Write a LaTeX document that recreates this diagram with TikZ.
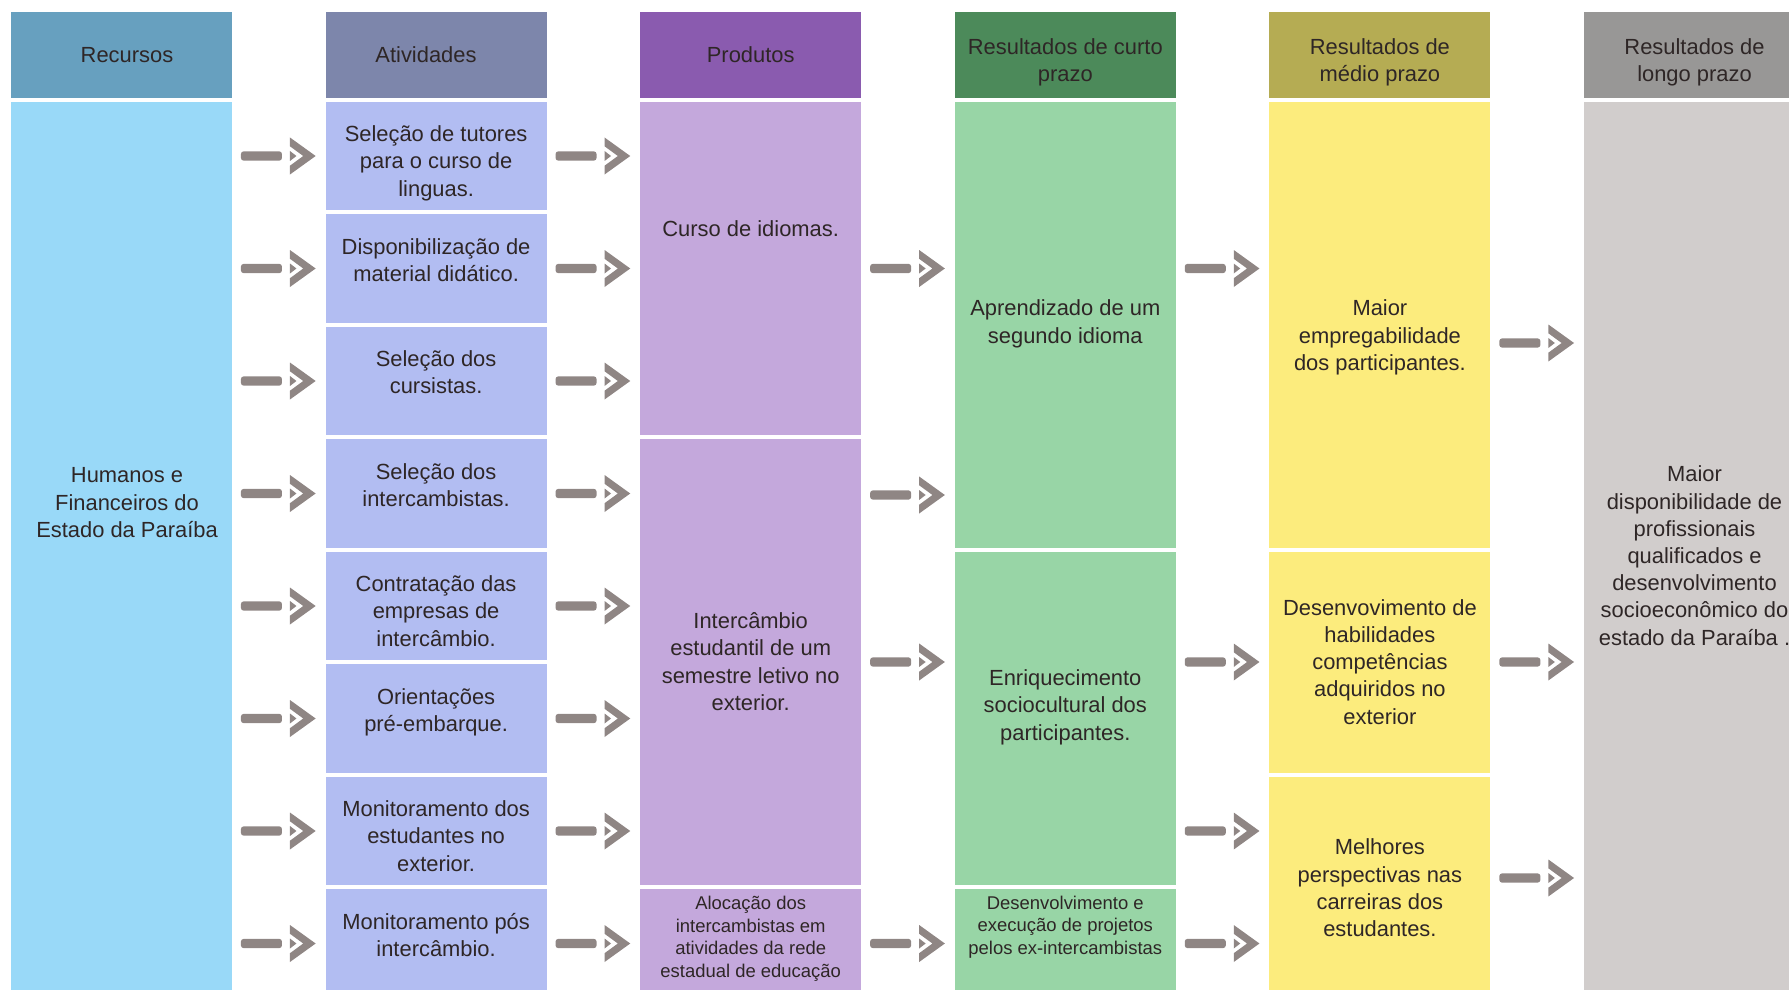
\documentclass[tikz,border=0pt]{standalone}
\usepackage{fontspec}
\setmainfont{Liberation Sans}
\definecolor{colRecHd}{HTML}{67A0BF}
\definecolor{colRec}{HTML}{99D9F8}
\definecolor{colAtvHd}{HTML}{7D86AB}
\definecolor{colAtv}{HTML}{B2BDF2}
\definecolor{colPrdHd}{HTML}{8A5BAF}
\definecolor{colPrd}{HTML}{C4A8DC}
\definecolor{colCurHd}{HTML}{4C8A5A}
\definecolor{colCur}{HTML}{98D5A6}
\definecolor{colMedHd}{HTML}{B5AC53}
\definecolor{colMed}{HTML}{FCEC7D}
\definecolor{colLonHd}{HTML}{989796}
\definecolor{colLon}{HTML}{D1CDCC}
\definecolor{colArrow}{HTML}{8F8684}
\definecolor{colText}{HTML}{2E2626}
\def\bodyfont{\fontsize{12.47pt}{15.48pt}\selectfont}
\def\smallfont{\fontsize{10.5pt}{12.76pt}\selectfont}
\tikzset{
  cellbox/.style={anchor=north west, inner sep=0pt, outer sep=0pt, minimum width=4.42cm},
  celltext/.style={anchor=north, align=center, inner sep=0pt, text=colText, font=\bodyfont}}
\newcommand{\cell}[5]{%
  \node[cellbox, fill=#5, minimum height={(#4-#3)*0.02cm}] (#1) at (#2,#3) {};}
\newcommand{\ctext}[4]{%
  \node[celltext] (#1) at (#2,#3) {\strut #4};}
\newcommand{\flowarrow}[2]{%
  \begin{scope}[shift={(#1.east |- 0,#2)}]
    \fill[colArrow, rounded corners=1.5pt] (9,-4.6) rectangle (50,4.6);
    \fill[colArrow] (58,-18.5) -- (83.7,0) -- (58,18.5) -- (58,9.7) -- (71.3,0) -- (58,-9.7) -- cycle;
    \fill[colArrow] (58,-5) -- (64.5,0) -- (58,5) -- cycle;
  \end{scope}}

\begin{document}
\begin{tikzpicture}[x=0.02cm, y=-0.02cm]
\useasboundingbox (0,0) rectangle (1789,990);
\clip (0,0) rectangle (1789,990);

% ===================== HEADERS =====================
\cell{hdRec}{11}{11.7}{97.7}{colRecHd}
\cell{hdAtv}{325.6}{11.7}{97.7}{colAtvHd}
\cell{hdPrd}{640.2}{11.7}{97.7}{colPrdHd}
\cell{hdCur}{954.8}{11.7}{97.7}{colCurHd}
\cell{hdMed}{1269.4}{11.7}{97.7}{colMedHd}
\cell{hdLon}{1584}{11.7}{97.7}{colLonHd}
\ctext{hdRecTxt}{127}{43.6}{Recursos}
\ctext{hdAtvTxt}{426}{43.6}{Atividades}
\ctext{hdPrdTxt}{750.7}{43.6}{Produtos}
\ctext{hdCurTxt}{1065.3}{35}{Resultados de curto\\prazo}
\ctext{hdMedTxt}{1379.9}{35}{Resultados de\\médio prazo}
\ctext{hdLonTxt}{1694.5}{35}{Resultados de\\longo prazo}

% ===================== RECURSOS =====================
\cell{rec}{11}{101.7}{997.7}{colRec}
\ctext{recTxt}{127}{463.6}{Humanos e\\Financeiros do\\Estado da Paraíba}

% ===================== ATIVIDADES =====================
\cell{atv1}{325.6}{101.7}{210.2}{colAtv}
\cell{atv2}{325.6}{214.2}{322.7}{colAtv}
\cell{atv3}{325.6}{326.7}{435.2}{colAtv}
\cell{atv4}{325.6}{439.2}{547.7}{colAtv}
\cell{atv5}{325.6}{551.7}{660.2}{colAtv}
\cell{atv6}{325.6}{664.2}{772.7}{colAtv}
\cell{atv7}{325.6}{776.7}{885.2}{colAtv}
\cell{atv8}{325.6}{889.2}{997.7}{colAtv}
\ctext{atv1Txt}{436.1}{122.3}{Seleção de tutores\\para o curso de\\linguas.}
\ctext{atv2Txt}{436.1}{234.8}{Disponibilização de\\material didático.}
\ctext{atv3Txt}{436.1}{347.3}{Seleção dos\\cursistas.}
\ctext{atv4Txt}{436.1}{459.8}{Seleção dos\\intercambistas.}
\ctext{atv5Txt}{436.1}{572.3}{Contratação das\\empresas de\\intercâmbio.}
\ctext{atv6Txt}{436.1}{684.8}{Orientações\\pré-embarque.}
\ctext{atv7Txt}{436.1}{797.3}{Monitoramento dos\\estudantes no\\exterior.}
\ctext{atv8Txt}{436.1}{909.8}{Monitoramento pós\\intercâmbio.}

% ===================== PRODUTOS =====================
\cell{prd1}{640.2}{101.7}{435.2}{colPrd}
\cell{prd2}{640.2}{439.2}{885.2}{colPrd}
\cell{prd3}{640.2}{889.2}{997.7}{colPrd}
\ctext{prd1Txt}{750.7}{216.9}{Curso de idiomas.}
\ctext{prd2Txt}{750.7}{609.3}{Intercâmbio\\estudantil de um\\semestre letivo no\\exterior.}
\node[celltext, font=\smallfont] (prd3Txt) at (750.7,893.7)
  {\strut Alocação dos\\intercambistas em\\atividades da rede\\estadual de educação};

% ===================== CURTO PRAZO =====================
\cell{cur1}{954.8}{101.7}{547.7}{colCur}
\cell{cur2}{954.8}{551.7}{885.2}{colCur}
\cell{cur3}{954.8}{889.2}{997.7}{colCur}
\ctext{cur1Txt}{1065.3}{296.6}{Aprendizado de um\\segundo idioma}
\ctext{cur2Txt}{1065.3}{666.4}{Enriquecimento\\sociocultural dos\\participantes.}
\node[celltext, font=\smallfont] (cur3Txt) at (1065.3,893.4)
  {\strut Desenvolvimento e\\execução de projetos\\pelos ex-intercambistas};

% ===================== MEDIO PRAZO =====================
\cell{med1}{1269.4}{101.7}{547.7}{colMed}
\cell{med2}{1269.4}{551.7}{772.7}{colMed}
\cell{med3}{1269.4}{776.7}{997.7}{colMed}
\ctext{med1Txt}{1379.9}{296.6}{Maior\\empregabilidade\\dos participantes.}
\ctext{med2Txt}{1379.9}{595.9}{Desenvovimento de\\habilidades\\competências\\adquiridos no\\exterior}
\ctext{med3Txt}{1379.9}{835.6}{Melhores\\perspectivas nas\\carreiras dos\\estudantes.}

% ===================== LONGO PRAZO =====================
\cell{lon}{1584}{101.7}{997.7}{colLon}
\ctext{lonTxt}{1694.5}{462.6}{Maior\\disponibilidade de\\profissionais\\qualificados e\\desenvolvimento\\socioeconômico do\\estado da Paraíba .}

% ===================== ARROWS =====================
\flowarrow{rec}{156}
\flowarrow{rec}{268.5}
\flowarrow{rec}{381}
\flowarrow{rec}{493.5}
\flowarrow{rec}{606}
\flowarrow{rec}{718.5}
\flowarrow{rec}{831}
\flowarrow{rec}{943.5}

\flowarrow{atv1}{156}
\flowarrow{atv2}{268.5}
\flowarrow{atv3}{381}
\flowarrow{atv4}{493.5}
\flowarrow{atv5}{606}
\flowarrow{atv6}{718.5}
\flowarrow{atv7}{831}
\flowarrow{atv8}{943.5}

\flowarrow{prd1}{268.5}
\flowarrow{prd2}{495}
\flowarrow{prd2}{662}
\flowarrow{prd3}{943.5}

\flowarrow{cur1}{268.5}
\flowarrow{cur2}{662}
\flowarrow{cur2}{831}
\flowarrow{cur3}{943.5}

\flowarrow{med1}{343}
\flowarrow{med2}{662}
\flowarrow{med3}{878}

\end{tikzpicture}
\end{document}
